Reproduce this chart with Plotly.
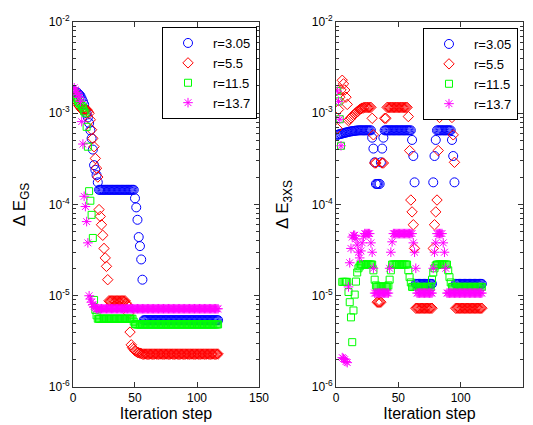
import plotly.graph_objects as go

# ---------------- data ----------------
ITER = list(range(1, 118))
LABELS = ["r=3.05", "r=5.5", "r=11.5", "r=13.7"]

# Left panel: Delta E_GS
GS_R305 = [
    1.75e-3, 1.72e-3, 1.70e-3, 1.65e-3, 1.60e-3, 1.55e-3, 1.45e-3, 1.35e-3, 1.25e-3, 1.10e-3,
    1.00e-3, 9.0e-4, 7.8e-4, 6.5e-4, 5.3e-4, 4.0e-4, 2.7e-4, 2.4e-4, 2.1e-4, 1.75e-4,
    1.45e-4, 1.45e-4, 1.45e-4, 1.45e-4, 1.45e-4, 1.45e-4, 1.45e-4, 1.45e-4, 1.45e-4, 1.45e-4,
    1.45e-4, 1.45e-4, 1.45e-4, 1.45e-4, 1.45e-4, 1.45e-4, 1.45e-4, 1.45e-4, 1.45e-4, 1.45e-4,
    1.45e-4, 1.45e-4, 1.45e-4, 1.45e-4, 1.45e-4, 1.45e-4, 1.45e-4, 1.45e-4, 1.45e-4, 1.17e-4,
    9.3e-5, 6.8e-5, 4.4e-5, 3.5e-5, 2.5e-5, 1.5e-5, 5.4e-6, 5.4e-6, 5.4e-6, 5.4e-6,
    5.4e-6, 5.4e-6, 5.4e-6, 5.4e-6, 5.4e-6, 5.4e-6, 5.4e-6, 5.4e-6, 5.4e-6, 5.4e-6,
    5.4e-6, 5.4e-6, 5.4e-6, 5.4e-6, 5.4e-6, 5.4e-6, 5.4e-6, 5.4e-6, 5.4e-6, 5.4e-6,
    5.4e-6, 5.4e-6, 5.4e-6, 5.4e-6, 5.4e-6, 5.4e-6, 5.4e-6, 5.4e-6, 5.4e-6, 5.4e-6,
    5.4e-6, 5.4e-6, 5.4e-6, 5.4e-6, 5.4e-6, 5.4e-6, 5.4e-6, 5.4e-6, 5.4e-6, 5.4e-6,
    5.4e-6, 5.4e-6, 5.4e-6, 5.4e-6, 5.4e-6, 5.4e-6, 5.4e-6, 5.4e-6, 5.4e-6, 5.4e-6,
    5.4e-6, 5.4e-6, 5.4e-6, 5.4e-6, 5.4e-6, 5.4e-6, 5.4e-6,
]
GS_R55 = [
    1.70e-3, 1.50e-3, 1.35e-3, 1.25e-3, 1.20e-3, 1.15e-3, 1.10e-3, 1.10e-3, 1.10e-3, 1.10e-3,
    1.10e-3, 1.05e-3, 1.00e-3, 8.5e-4, 6.6e-4, 5.3e-4, 4.3e-4, 3.2e-4, 2.5e-4, 2.0e-4,
    8.8e-5, 7.4e-5, 6.0e-5, 4.6e-5, 3.3e-5, 2.6e-5, 2.1e-5, 1.5e-5, 8.8e-6, 8.8e-6,
    8.8e-6, 8.8e-6, 8.8e-6, 8.8e-6, 8.8e-6, 8.8e-6, 8.8e-6, 8.8e-6, 8.8e-6, 8.8e-6,
    8.8e-6, 8.8e-6, 8.3e-6, 7.8e-6, 6.4e-6, 4.0e-6, 2.9e-6, 2.7e-6, 2.6e-6, 2.5e-6,
    2.45e-6, 2.4e-6, 2.37e-6, 2.35e-6, 2.33e-6, 2.3e-6, 2.3e-6, 2.3e-6, 2.3e-6, 2.3e-6,
    2.3e-6, 2.3e-6, 2.3e-6, 2.3e-6, 2.3e-6, 2.3e-6, 2.3e-6, 2.3e-6, 2.3e-6, 2.3e-6,
    2.3e-6, 2.3e-6, 2.3e-6, 2.3e-6, 2.3e-6, 2.3e-6, 2.3e-6, 2.3e-6, 2.3e-6, 2.3e-6,
    2.3e-6, 2.3e-6, 2.3e-6, 2.3e-6, 2.3e-6, 2.3e-6, 2.3e-6, 2.3e-6, 2.3e-6, 2.3e-6,
    2.3e-6, 2.3e-6, 2.3e-6, 2.3e-6, 2.3e-6, 2.3e-6, 2.3e-6, 2.3e-6, 2.3e-6, 2.3e-6,
    2.3e-6, 2.3e-6, 2.3e-6, 2.3e-6, 2.3e-6, 2.3e-6, 2.3e-6, 2.3e-6, 2.3e-6, 2.3e-6,
    2.3e-6, 2.3e-6, 2.3e-6, 2.3e-6, 2.3e-6, 2.3e-6, 2.3e-6,
]
GS_R115 = [
    1.75e-3, 1.60e-3, 1.45e-3, 1.35e-3, 1.30e-3, 1.25e-3, 1.20e-3, 1.15e-3, 1.05e-3, 1.00e-3,
    7.1e-4, 4.3e-4, 1.4e-4, 1.1e-4, 7.7e-5, 4.3e-5, 9.0e-6, 7.0e-6, 6.1e-6, 5.6e-6,
    5.6e-6, 5.6e-6, 5.6e-6, 5.6e-6, 5.6e-6, 5.6e-6, 5.6e-6, 5.6e-6, 5.6e-6, 5.6e-6,
    5.6e-6, 5.6e-6, 5.6e-6, 5.6e-6, 5.6e-6, 5.6e-6, 5.6e-6, 5.6e-6, 5.6e-6, 5.6e-6,
    5.6e-6, 5.6e-6, 5.6e-6, 5.6e-6, 5.6e-6, 5.6e-6, 5.6e-6, 5.6e-6, 5.2e-6, 4.9e-6,
    4.85e-6, 4.85e-6, 4.85e-6, 4.85e-6, 4.85e-6, 4.85e-6, 4.85e-6, 4.85e-6, 4.85e-6, 4.85e-6,
    4.85e-6, 4.85e-6, 4.85e-6, 4.85e-6, 4.85e-6, 4.85e-6, 4.85e-6, 4.85e-6, 4.85e-6, 4.85e-6,
    4.85e-6, 4.85e-6, 4.85e-6, 4.85e-6, 4.85e-6, 4.85e-6, 4.85e-6, 4.85e-6, 4.85e-6, 4.85e-6,
    4.85e-6, 4.85e-6, 4.85e-6, 4.85e-6, 4.85e-6, 4.85e-6, 4.85e-6, 4.85e-6, 4.85e-6, 4.85e-6,
    4.85e-6, 4.85e-6, 4.85e-6, 4.85e-6, 4.85e-6, 4.85e-6, 4.85e-6, 4.85e-6, 4.85e-6, 4.85e-6,
    4.85e-6, 4.85e-6, 4.85e-6, 4.85e-6, 4.85e-6, 4.85e-6, 4.85e-6, 4.85e-6, 4.85e-6, 4.85e-6,
    4.85e-6, 4.85e-6, 4.85e-6, 4.85e-6, 4.85e-6, 4.85e-6, 4.85e-6,
]
GS_R137 = [
    1.90e-3, 1.80e-3, 1.70e-3, 1.60e-3, 1.50e-3, 1.35e-3, 8.1e-4, 4.6e-4, 1.23e-4, 9.5e-5,
    6.5e-5, 3.8e-5, 1.0e-5, 9.2e-6, 8.5e-6, 8.0e-6, 7.6e-6, 7.4e-6, 7.2e-6, 7.2e-6,
    7.2e-6, 7.2e-6, 7.2e-6, 7.2e-6, 7.2e-6, 7.2e-6, 7.2e-6, 7.2e-6, 7.2e-6, 7.2e-6,
    7.2e-6, 7.2e-6, 7.2e-6, 7.2e-6, 7.2e-6, 7.2e-6, 7.2e-6, 7.2e-6, 7.2e-6, 7.2e-6,
    7.2e-6, 7.2e-6, 7.2e-6, 7.2e-6, 7.2e-6, 7.2e-6, 7.2e-6, 7.2e-6, 7.2e-6, 7.2e-6,
    7.2e-6, 7.2e-6, 7.2e-6, 7.2e-6, 7.2e-6, 7.2e-6, 7.2e-6, 7.2e-6, 7.2e-6, 7.2e-6,
    7.2e-6, 7.2e-6, 7.2e-6, 7.2e-6, 7.2e-6, 7.2e-6, 7.2e-6, 7.2e-6, 7.2e-6, 7.2e-6,
    7.2e-6, 7.2e-6, 7.2e-6, 7.2e-6, 7.2e-6, 7.2e-6, 7.2e-6, 7.2e-6, 7.2e-6, 7.2e-6,
    7.2e-6, 7.2e-6, 7.2e-6, 7.2e-6, 7.2e-6, 7.2e-6, 7.2e-6, 7.2e-6, 7.2e-6, 7.2e-6,
    7.2e-6, 7.2e-6, 7.2e-6, 7.2e-6, 7.2e-6, 7.2e-6, 7.2e-6, 7.2e-6, 7.2e-6, 7.2e-6,
    7.2e-6, 7.2e-6, 7.2e-6, 7.2e-6, 7.2e-6, 7.2e-6, 7.2e-6, 7.2e-6, 7.2e-6, 7.2e-6,
    7.2e-6, 7.2e-6, 7.2e-6, 7.2e-6, 7.2e-6, 7.2e-6, 7.2e-6,
]

# Right panel: Delta E_3XS
XS_R305 = [
    5.8e-4, 5.85e-4, 5.9e-4, 5.95e-4, 6.0e-4, 6.05e-4, 6.1e-4, 6.15e-4, 6.2e-4, 6.25e-4,
    6.3e-4, 6.33e-4, 6.36e-4, 6.39e-4, 6.42e-4, 6.45e-4, 6.47e-4, 6.5e-4, 6.5e-4, 6.5e-4,
    6.5e-4, 6.5e-4, 6.5e-4, 6.5e-4, 6.5e-4, 6.5e-4, 6.5e-4, 6.5e-4, 5.4e-4, 4.1e-4,
    2.9e-4, 1.68e-4, 1.68e-4, 1.68e-4, 1.68e-4, 2.9e-4, 4.1e-4, 5.4e-4, 6.5e-4, 6.5e-4,
    6.5e-4, 6.5e-4, 6.5e-4, 6.5e-4, 6.5e-4, 6.5e-4, 6.5e-4, 6.5e-4, 6.5e-4, 6.5e-4,
    6.5e-4, 6.5e-4, 6.5e-4, 6.5e-4, 6.5e-4, 6.5e-4, 6.5e-4, 6.5e-4, 6.5e-4, 6.5e-4,
    5.1e-4, 3.4e-4, 1.75e-4, 1.35e-5, 1.35e-5, 1.35e-5, 1.35e-5, 1.35e-5, 1.35e-5, 1.35e-5,
    1.35e-5, 1.35e-5, 1.35e-5, 1.35e-5, 1.35e-5, 1.35e-5, 1.35e-5, 1.75e-4, 3.4e-4, 5.1e-4,
    6.5e-4, 6.5e-4, 6.5e-4, 6.5e-4, 6.5e-4, 6.5e-4, 6.5e-4, 6.5e-4, 6.5e-4, 6.5e-4,
    6.5e-4, 6.5e-4, 5.1e-4, 3.4e-4, 1.75e-4, 1.35e-5, 1.35e-5, 1.35e-5, 1.35e-5, 1.35e-5,
    1.35e-5, 1.35e-5, 1.35e-5, 1.35e-5, 1.35e-5, 1.35e-5, 1.35e-5, 1.35e-5, 1.35e-5, 1.35e-5,
    1.35e-5, 1.35e-5, 1.35e-5, 1.35e-5, 1.35e-5, 1.35e-5, 1.35e-5,
]
XS_R55 = [
    6.8e-4, 1.1e-3, 1.5e-3, 1.8e-3, 2.3e-3, 2.1e-3, 1.8e-3, 1.5e-3, 1.25e-3, 8.3e-4,
    8.6e-4, 8.9e-4, 9.2e-4, 9.5e-4, 9.8e-4, 1.01e-3, 1.04e-3, 1.07e-3, 1.1e-3, 1.12e-3,
    1.14e-3, 1.15e-3, 1.16e-3, 1.16e-3, 1.16e-3, 1.16e-3, 1.16e-3, 1.16e-3, 8.8e-4, 5.8e-4,
    2.85e-4, 2.85e-4, 8.5e-6, 8.5e-6, 8.5e-6, 8.5e-6, 2.85e-4, 2.85e-4, 8.8e-4, 8.8e-4,
    1.16e-3, 1.16e-3, 1.16e-3, 1.16e-3, 1.16e-3, 1.16e-3, 1.16e-3, 1.16e-3, 1.16e-3, 1.16e-3,
    1.16e-3, 1.16e-3, 1.16e-3, 1.16e-3, 1.16e-3, 1.16e-3, 1.16e-3, 9.2e-4, 3.9e-4, 1.12e-4,
    8.3e-5, 6.0e-5, 3.3e-5, 7.3e-6, 7.3e-6, 7.3e-6, 7.3e-6, 7.3e-6, 7.3e-6, 7.3e-6,
    7.3e-6, 7.3e-6, 7.3e-6, 7.3e-6, 7.3e-6, 7.3e-6, 7.3e-6, 3.3e-5, 6.0e-5, 8.3e-5,
    1.12e-4, 3.9e-4, 9.0e-4, 1.16e-3, 1.16e-3, 1.16e-3, 1.16e-3, 1.16e-3, 1.16e-3, 1.16e-3,
    1.16e-3, 1.16e-3, 9.0e-4, 5.8e-4, 2.9e-4, 7.3e-6, 7.3e-6, 7.3e-6, 7.3e-6, 7.3e-6,
    7.3e-6, 7.3e-6, 7.3e-6, 7.3e-6, 7.3e-6, 7.3e-6, 7.3e-6, 7.3e-6, 7.3e-6, 7.3e-6,
    7.3e-6, 7.3e-6, 7.3e-6, 7.3e-6, 7.3e-6, 7.3e-6, 7.3e-6,
]
XS_R115 = [
    1.75e-3, 1.35e-3, 8.6e-4, 4.4e-4, 1.42e-5, 1.42e-5, 1.42e-5, 1.42e-5, 1.42e-5, 1.1e-5,
    8.5e-6, 5.8e-6, 3.1e-6, 6.9e-6, 1.03e-5, 1.43e-5, 1.8e-5, 2.0e-5, 2.1e-5, 2.2e-5,
    2.2e-5, 2.2e-5, 2.2e-5, 2.2e-5, 2.2e-5, 2.2e-5, 2.2e-5, 2.2e-5, 2.2e-5, 1.9e-5,
    1.5e-5, 1.3e-5, 1.26e-5, 1.26e-5, 1.26e-5, 1.26e-5, 1.26e-5, 1.26e-5, 1.26e-5, 1.26e-5,
    1.26e-5, 1.3e-5, 1.5e-5, 1.9e-5, 2.2e-5, 2.2e-5, 2.2e-5, 2.2e-5, 2.2e-5, 2.2e-5,
    2.2e-5, 2.2e-5, 2.2e-5, 2.2e-5, 2.2e-5, 2.2e-5, 2.2e-5, 1.9e-5, 1.6e-5, 1.4e-5,
    1.25e-5, 1.25e-5, 1.25e-5, 1.25e-5, 1.25e-5, 1.25e-5, 1.25e-5, 1.25e-5, 1.25e-5, 1.25e-5,
    1.25e-5, 1.25e-5, 1.25e-5, 1.25e-5, 1.25e-5, 1.25e-5, 1.5e-5, 1.8e-5, 2.0e-5, 2.15e-5,
    2.2e-5, 2.2e-5, 2.2e-5, 2.2e-5, 2.2e-5, 2.2e-5, 2.2e-5, 2.2e-5, 2.2e-5, 1.9e-5,
    1.6e-5, 1.4e-5, 1.25e-5, 1.25e-5, 1.25e-5, 1.25e-5, 1.25e-5, 1.25e-5, 1.25e-5, 1.25e-5,
    1.25e-5, 1.25e-5, 1.25e-5, 1.25e-5, 1.25e-5, 1.25e-5, 1.25e-5, 1.25e-5, 1.25e-5, 1.25e-5,
    1.25e-5, 1.25e-5, 1.25e-5, 1.25e-5, 1.25e-5, 1.25e-5, 1.25e-5,
]
XS_R137 = [
    1.75e-3, 1.35e-3, 8.6e-4, 4.4e-4, 2.1e-6, 2.05e-6, 2.0e-6, 1.9e-6, 1.85e-6, 1.25e-5,
    2.3e-5, 3.3e-5, 4.4e-5, 4.6e-5, 4.6e-5, 4.2e-5, 3.6e-5, 3.0e-5, 2.6e-5, 3.1e-5,
    3.8e-5, 4.5e-5, 4.8e-5, 4.8e-5, 4.8e-5, 4.8e-5, 4.8e-5, 3.8e-5, 3.0e-5, 2.0e-5,
    1.07e-5, 1.07e-5, 1.07e-5, 1.07e-5, 1.07e-5, 1.07e-5, 1.07e-5, 1.07e-5, 1.07e-5, 1.07e-5,
    1.07e-5, 1.07e-5, 2.0e-5, 3.0e-5, 3.9e-5, 4.8e-5, 4.8e-5, 4.8e-5, 4.8e-5, 4.8e-5,
    4.8e-5, 4.8e-5, 4.8e-5, 4.8e-5, 4.8e-5, 4.8e-5, 4.8e-5, 4.8e-5, 4.8e-5, 4.8e-5,
    4.8e-5, 3.8e-5, 3.0e-5, 2.0e-5, 1.07e-5, 1.07e-5, 1.07e-5, 1.07e-5, 1.07e-5, 1.07e-5,
    1.07e-5, 1.07e-5, 1.07e-5, 1.07e-5, 1.07e-5, 1.07e-5, 1.07e-5, 2.0e-5, 3.0e-5, 3.8e-5,
    4.8e-5, 4.8e-5, 4.8e-5, 4.8e-5, 4.8e-5, 3.8e-5, 3.0e-5, 2.0e-5, 1.07e-5, 1.07e-5,
    1.07e-5, 1.07e-5, 1.07e-5, 1.07e-5, 1.07e-5, 1.07e-5, 1.07e-5, 1.07e-5, 1.07e-5, 1.07e-5,
    1.07e-5, 1.07e-5, 1.07e-5, 1.07e-5, 1.07e-5, 1.07e-5, 1.07e-5, 1.07e-5, 1.07e-5, 1.07e-5,
    1.07e-5, 1.07e-5, 1.07e-5, 1.07e-5, 1.07e-5, 1.07e-5, 1.07e-5,
]

X_TICKS = [0, 50, 100, 150]
Y_TICKS = [1e-6, 1e-5, 1e-4, 1e-3, 1e-2]
Y_TICKTEXT = ["10<sup>-6</sup>", "10<sup>-5</sup>", "10<sup>-4</sup>",
              "10<sup>-3</sup>", "10<sup>-2</sup>"]

# ---------------- styling ----------------
STYLES = [
    dict(symbol="circle-open", color="#0000FF", size=9),
    dict(symbol="diamond-open", color="#FF0000", size=8),
    dict(symbol="square-open", color="#00FF00", size=7),
    dict(symbol="asterisk-open", color="#FF00FF", size=8),
]
FONT = "Liberation Sans, Arial, sans-serif"
AX = "#333333"

# the page body adds an 8px offset; figure is sized to fit the 533x425 window
W, H = 525, 417

fig = go.Figure()

panels = [
    ([GS_R305, GS_R55, GS_R115, GS_R137], "x", "y", "legend"),
    ([XS_R305, XS_R55, XS_R115, XS_R137], "x2", "y2", "legend2"),
]
for series, xa, ya, lg in panels:
    for vals, lab, st in zip(series, LABELS, STYLES):
        fig.add_trace(go.Scatter(
            x=ITER, y=vals, mode="markers", name=lab,
            xaxis=xa, yaxis=ya, legend=lg,
            marker=dict(symbol=st["symbol"], size=st["size"], color=st["color"],
                        line=dict(color=st["color"], width=1)),
        ))

minor_vals = [m * 10.0 ** d for d in range(-6, -2) for m in range(2, 10)]

def xaxis_cfg(domain, anchor):
    return dict(
        domain=domain, anchor=anchor, range=[0, 150], tickvals=X_TICKS,
        ticks="inside", ticklen=5, tickcolor=AX, showline=True, linecolor=AX,
        linewidth=1, mirror="ticks", showgrid=False, zeroline=False, automargin=False,
        tickfont=dict(size=12, color="#000000"),
        title=dict(text="Iteration step", font=dict(size=16, color="#000000"), standoff=3),
    )

def yaxis_cfg(anchor, title):
    return dict(
        domain=[0.0911, 0.9664], anchor=anchor, type="log", range=[-6, -2],
        tickvals=Y_TICKS, ticktext=Y_TICKTEXT,
        ticks="inside", ticklen=5, tickcolor=AX, showline=True, linecolor=AX,
        linewidth=1, mirror="ticks", showgrid=False, zeroline=False, automargin=False,
        minor=dict(ticks="inside", ticklen=3, tickcolor=AX, tickvals=minor_vals),
        tickfont=dict(size=12, color="#000000"),
        title=dict(text=title, font=dict(size=17, color="#000000"), standoff=18),
    )

legend_common = dict(
    bgcolor="white", bordercolor="#000000", borderwidth=1,
    font=dict(size=13, color="#000000", family=FONT),
    xanchor="right", yanchor="top", tracegroupgap=0, itemwidth=40,
)

fig.update_layout(
    width=W, height=H,
    margin=dict(l=0, r=0, t=0, b=0, autoexpand=False),
    paper_bgcolor="white", plot_bgcolor="white",
    font=dict(family=FONT, color="#000000"),
    xaxis=xaxis_cfg([0.1238, 0.4781], "y"),
    yaxis=yaxis_cfg("x", "Δ E<sub>GS</sub>"),
    xaxis2=xaxis_cfg([0.6248, 0.9810], "y2"),
    yaxis2=yaxis_cfg("x2", "Δ E<sub>3XS</sub>"),
    legend=dict(x=0.4743, y=0.9544, **legend_common),
    legend2=dict(x=0.9714, y=0.952, **legend_common),
)

fig.write_html("out.html")
